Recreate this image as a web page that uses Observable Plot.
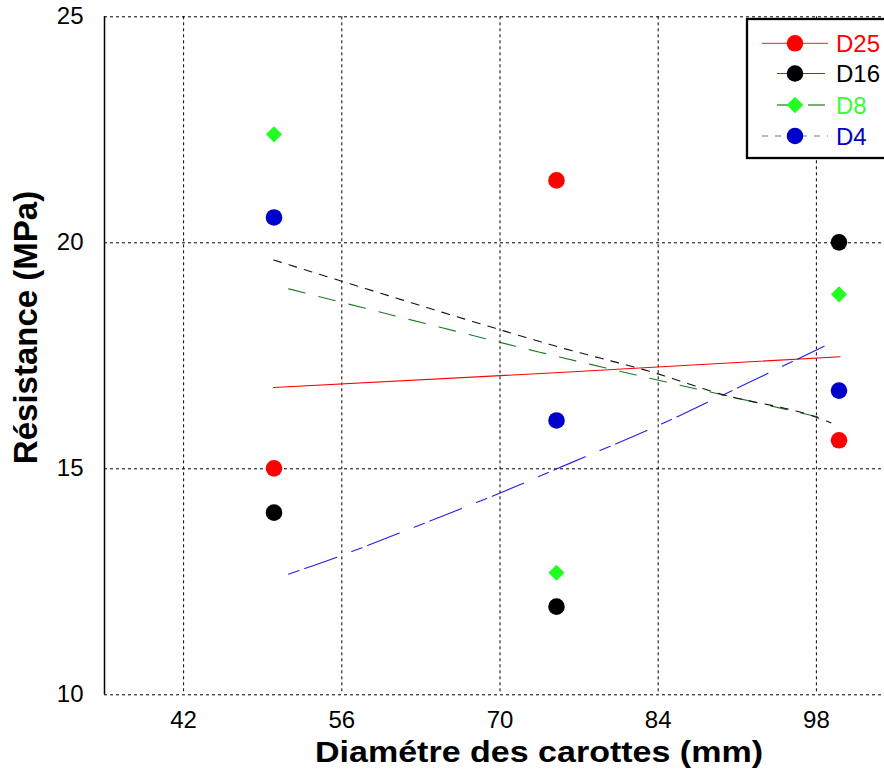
<!DOCTYPE html>
<html>
<head>
<meta charset="utf-8">
<script src="https://cdn.jsdelivr.net/npm/d3@7"></script>
<script src="https://cdn.jsdelivr.net/npm/@observablehq/plot@0.6"></script>
<style>
  html, body { margin: 0; padding: 0; background: #fff; overflow: hidden; }
  #chart svg { display: block; }
</style>
</head>
<body>
<div id="chart"></div>
<script>
// ---- data ----
const xTicks = [42, 56, 70, 84, 98];
const yTicks = [10, 15, 20, 25];
const diam = [50, 75, 100];
const seriesNames = ["D25", "D16", "D8", "D4"];
const d25 = [15.01, 21.38, 15.63];
const d16 = [14.03, 11.95, 20.01];
const d8  = [22.40, 12.70, 18.86];
const d4  = [20.56, 16.07, 16.73];

// trend curves
const fitD25x = [49.95, 75.3, 100.1];
const fitD25y = [16.80, 17.13, 17.48];
const fitD16x = [51.30, 55.50, 60.81, 66.27, 69.96, 76.16, 83.84, 89.45, 93.28, 98.69];
const fitD16y = [12.67, 13.04, 13.55, 14.09, 14.46, 15.12, 15.94, 16.60, 17.06, 17.71];
const fitD8x  = [51.30, 63.47, 73.51, 83.84, 91.22, 98.60];
const fitD8y  = [18.98, 18.21, 17.58, 16.97, 16.55, 16.12];
const fitD4x  = [49.97, 56.0, 69.96, 74.98, 83.98, 89.45, 98.01, 99.28];
const fitD4y  = [19.62, 19.15, 18.08, 17.71, 17.10, 16.66, 16.14, 16.02];

const pts = (xs, ys) => xs.map((x, i) => ({x, y: ys[i]}));

const FONT = "'Liberation Sans', Arial, Helvetica, sans-serif";
const cRed = "#ff0000", cBlack = "#000000", cGreen = "#22ff22", cBlue = "#0000cc";

const chart = Plot.plot({
  width: 884,
  height: 771,
  marginLeft: 104,
  marginRight: 0,
  marginTop: 16.3,
  marginBottom: 76.7,
  style: {fontFamily: FONT, background: "#fff", color: "#000"},
  x: {domain: [35, 105], range: [104, 895]},
  y: {domain: [10, 25]},
  marks: [
    Plot.ruleX(xTicks, {stroke: "#000", strokeWidth: 1, strokeDasharray: "3,3"}),
    Plot.ruleY(yTicks, {stroke: "#000", strokeWidth: 1, strokeDasharray: "3,3"}),
    Plot.ruleX([35], {stroke: "#000", strokeWidth: 1.5}),
    Plot.axisX(xTicks, {tickSize: 0, tickPadding: 16, fontSize: 24, label: null}),
    Plot.axisY(yTicks, {tickSize: 0, tickPadding: 21, fontSize: 24, label: null}),
    // trend curves
    Plot.line(pts(fitD25x, fitD25y), {x: "x", y: "y", stroke: cRed, strokeWidth: 1.1}),
    Plot.line(pts(fitD16x, fitD16y), {x: "x", y: "y", stroke: "#1f1fee", strokeWidth: 1.1, strokeDasharray: "11,6,34,16", curve: "monotone-x"}),
    Plot.line(pts(fitD8x, fitD8y), {x: "x", y: "y", stroke: "#1e7a1e", strokeWidth: 1.1, strokeDasharray: "17,14", curve: "monotone-x"}),
    Plot.line(pts(fitD4x, fitD4y), {x: "x", y: "y", stroke: "#111", strokeWidth: 1.1, strokeDasharray: "8,8", curve: "monotone-x"}),
    // points
    Plot.dot(pts(diam, d25), {x: "x", y: "y", r: 8.3, fill: cRed}),
    Plot.dot(pts(diam, d16), {x: "x", y: "y", r: 8.3, fill: cBlack}),
    Plot.dot(pts(diam, d8), {x: "x", y: "y", r: 7.3, fill: cGreen, symbol: "diamond2"}),
    Plot.dot(pts(diam, d4), {x: "x", y: "y", r: 8.3, fill: cBlue})
  ]
});

document.getElementById("chart").appendChild(chart);
const svg = d3.select(chart);

// axis titles
svg.append("text")
  .attr("x", 539).attr("y", 761.5)
  .attr("text-anchor", "middle")
  .attr("font-family", FONT).attr("font-weight", "bold").attr("font-size", 30)
  .attr("textLength", 448).attr("lengthAdjust", "spacingAndGlyphs")
  .text("Diamétre des carottes (mm)");
svg.append("text")
  .attr("transform", "translate(36.5,327.5) rotate(-90)")
  .attr("text-anchor", "middle")
  .attr("font-family", FONT).attr("font-weight", "bold").attr("font-size", 33)
  .text("Résistance (MPa)");

// legend
const lg = svg.append("g");
lg.append("rect").attr("x", 747).attr("y", 19).attr("width", 160).attr("height", 139)
  .attr("fill", "#fff").attr("stroke", "#000").attr("stroke-width", 2.3);
const rows = [
  {name: seriesNames[0], y: 43.3, col: cRed, text: cRed},
  {name: seriesNames[1], y: 73.5, col: cBlack, text: cBlack},
  {name: seriesNames[2], y: 105, col: cGreen, text: "#33ff33"},
  {name: seriesNames[3], y: 136, col: cBlue, text: cBlue}
];
// D25 line
lg.append("line").attr("x1", 762).attr("x2", 828).attr("y1", rows[0].y).attr("y2", rows[0].y)
  .attr("stroke", "#e85050").attr("stroke-width", 1.2);
// D16 line
lg.append("line").attr("x1", 777).attr("x2", 825).attr("y1", rows[1].y).attr("y2", rows[1].y)
  .attr("stroke", "#3a3ae0").attr("stroke-width", 1.2);
// D8 line (long dash)
lg.append("line").attr("x1", 777).attr("x2", 795).attr("y1", rows[2].y).attr("y2", rows[2].y)
  .attr("stroke", "#1e7a1e").attr("stroke-width", 1.2);
lg.append("line").attr("x1", 808).attr("x2", 825).attr("y1", rows[2].y).attr("y2", rows[2].y)
  .attr("stroke", "#1e7a1e").attr("stroke-width", 1.2);
// D4 line (short dash)
lg.append("line").attr("x1", 762).attr("x2", 828).attr("y1", rows[3].y).attr("y2", rows[3].y)
  .attr("stroke", "#777").attr("stroke-width", 1.2).attr("stroke-dasharray", "6,7");
rows.forEach((r, i) => {
  if (i === 2) {
    const s = 8.3;
    lg.append("path").attr("d", `M795,${r.y - s}L${795 + s},${r.y}L795,${r.y + s}L${795 - s},${r.y}Z`).attr("fill", r.col);
  } else {
    lg.append("circle").attr("cx", 795).attr("cy", r.y).attr("r", 8.3).attr("fill", r.col);
  }
  lg.append("text").attr("x", 836).attr("y", r.y).attr("dy", "0.36em")
    .attr("text-anchor", "start")
    .attr("font-family", FONT).attr("font-size", 24).attr("fill", r.text).text(r.name);
});
</script>
</body>
</html>
